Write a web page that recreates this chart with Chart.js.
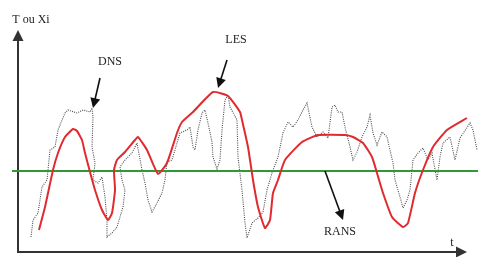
<!DOCTYPE html>
<html><head><meta charset="utf-8">
<script src="https://cdn.jsdelivr.net/npm/chart.js@4"></script>
<style>html,body{margin:0;padding:0;background:#fff;}#wrap{width:478px;height:257px;}</style>
</head><body><div id="wrap"><canvas id="c" width="478" height="257"></canvas></div>
<script>
// DNS signal (time, value)
const dnsT = [1.3,1.5,2.0,2.4,2.9,3.2,3.7,4.0,4.7,5.0,5.9,6.5,7.2,7.4,7.5,7.4,7.7,7.5,8.0,8.4,8.7,8.9,8.9,9.4,9.9,10.5,10.7,10.4,10.2,10.7,11.4,11.9,12.4,12.7,13.0,13.4,13.9,14.4,14.7,14.9,15.4,15.9,16.2,16.9,17.2,17.5,17.7,18.0,18.4,18.7,19.0,19.4,19.5,19.9,20.2,20.4,20.7,21.0,21.2,21.9,22.0,22.4,22.7,22.9,23.4,24.0,24.5,24.9,25.4,26.0,26.5,27.0,27.5,28.0,28.5,28.9,29.4,29.9,30.5,31.0,31.4,31.7,32.0,32.4,32.7,33.2,33.5,33.9,34.4,34.9,35.2,35.5,35.9,36.4,36.9,37.2,37.5,37.7,38.2,38.5,38.9,39.2,39.5,40.0,40.5,41.0,41.4,41.9,42.2,42.5,43.2,43.7,44.2,45.2,45.5,45.9];
const dnsV = [-6.6,-4.9,-4.2,-1.6,-0.9,2.1,2.4,4.1,5.8,6.1,5.8,6.1,5.9,6.3,5.4,2.4,0.8,-0.9,-1.2,-0.6,-2.6,-4.9,-6.6,-6.2,-5.6,-3.6,-1.9,-0.9,0.4,1.1,1.8,2.8,0.1,-1.2,-2.9,-4.1,-3.2,-2.2,-0.9,0.9,1.1,2.8,3.8,4.1,4.4,2.4,2.1,4.1,5.8,6.1,4.8,2.9,1.4,0.2,1.1,4.1,7.1,7.6,6.4,5.1,1.4,-1.9,-5.2,-6.7,-5.2,-4.7,-4.1,-1.9,-0.2,1.4,3.8,4.9,4.4,5.1,6.1,6.8,4.4,3.4,3.9,3.3,6.4,6.6,5.9,5.9,4.4,2.4,1.1,1.9,3.4,4.4,5.6,3.8,2.6,3.9,3.4,2.1,0.8,-0.9,-2.6,-3.7,-2.9,-1.9,1.1,1.8,2.3,1.1,1.8,-0.9,1.4,2.8,3.4,1.1,3.3,4.8,4.1,2.1];
// LES signal
const lesT = [2.1,2.7,3.5,4.0,4.7,5.5,5.9,6.4,6.7,7.2,7.7,8.4,9.0,9.4,9.7,9.6,9.9,10.7,11.7,12.0,12.9,14.0,14.9,15.9,16.4,17.5,19.5,21.0,22.2,22.4,23.0,23.5,24.0,24.7,25.2,25.5,26.0,26.7,28.4,30.0,32.7,33.5,34.5,35.4,35.9,36.5,37.4,38.5,39.0,39.7,40.5,41.5,42.9,44.9];
const lesV = [-5.9,-3.6,0.1,1.8,3.4,4.2,4.0,3.1,1.8,-0.1,-1.9,-3.9,-4.9,-4.2,-1.9,0.1,1.1,1.9,3.1,3.4,2.1,-0.3,0.8,3.8,4.9,5.9,7.9,7.5,5.9,5.1,2.4,-0.9,-3.6,-5.7,-4.9,-2.2,-0.9,1.1,2.9,3.6,3.6,3.4,2.8,1.4,-0.2,-2.2,-4.6,-5.6,-5.2,-2.2,0.1,2.4,4.1,5.3];
// RANS (mean) signal
const ransT = [-0.6, 46.0];
const ransV = [0, 0];
const seriesNames = ["DNS", "LES", "RANS"];
const axisTitleY = "T ou Xi";
const axisTitleX = "t";

const pts = (xs, ys) => xs.map((x, i) => ({x: x, y: ys[i]}));

const axisCfg = {t0: 0, tEnd: 44.9, vBottom: -8.1, vTop: 14.1};
const notes = [
  {text: seriesNames[0], at: [9.2, 10.9], from: [8.2, 9.3], to: [7.5, 6.3]},
  {text: seriesNames[1], at: [21.8, 13.1], from: [20.9, 11.1], to: [20.0, 8.3]},
  {text: seriesNames[2], at: [32.2, -6.1], from: [30.7, 0.0], to: [32.5, -4.9]}
];

function arrow(ctx, x1, y1, x2, y2, head, w, color) {
  const a = Math.atan2(y2 - y1, x2 - x1);
  ctx.save();
  ctx.strokeStyle = color; ctx.fillStyle = color; ctx.lineWidth = w;
  ctx.beginPath(); ctx.moveTo(x1, y1);
  ctx.lineTo(x2 - Math.cos(a) * head * 0.8, y2 - Math.sin(a) * head * 0.8); ctx.stroke();
  ctx.beginPath(); ctx.moveTo(x2, y2);
  ctx.lineTo(x2 - head * Math.cos(a) + head * 0.5 * Math.sin(a), y2 - head * Math.sin(a) - head * 0.5 * Math.cos(a));
  ctx.lineTo(x2 - head * Math.cos(a) - head * 0.5 * Math.sin(a), y2 - head * Math.sin(a) + head * 0.5 * Math.cos(a));
  ctx.closePath(); ctx.fill();
  ctx.restore();
}

const decor = {
  id: 'decor',
  beforeDatasetsDraw(chart) {
    const ctx = chart.ctx, xs = chart.scales.x, ys = chart.scales.y;
    const x0 = xs.getPixelForValue(axisCfg.t0), xe = xs.getPixelForValue(axisCfg.tEnd);
    const yb = ys.getPixelForValue(axisCfg.vBottom), yt = ys.getPixelForValue(axisCfg.vTop);
    arrow(ctx, x0, yb + 1, x0, yt, 11, 2, '#333');
    arrow(ctx, x0 - 1, yb, xe, yb, 11, 2, '#333');
    ctx.save();
    ctx.fillStyle = '#222';
    ctx.font = '12px "Liberation Serif", serif';
    ctx.textAlign = 'center'; ctx.textBaseline = 'middle';
    ctx.fillText(axisTitleY, xs.getPixelForValue(1.3), ys.getPixelForValue(15.1));
    ctx.fillText(axisTitleX, xs.getPixelForValue(43.4), ys.getPixelForValue(-7.2));
    ctx.restore();
  },
  afterDatasetsDraw(chart) {
    const ctx = chart.ctx, xs = chart.scales.x, ys = chart.scales.y;
    ctx.save();
    ctx.fillStyle = '#222';
    ctx.font = '12px "Liberation Serif", serif';
    ctx.textAlign = 'center'; ctx.textBaseline = 'middle';
    notes.forEach(n => {
      ctx.fillText(n.text, xs.getPixelForValue(n.at[0]), ys.getPixelForValue(n.at[1]));
      arrow(ctx, xs.getPixelForValue(n.from[0]), ys.getPixelForValue(n.from[1]),
            xs.getPixelForValue(n.to[0]), ys.getPixelForValue(n.to[1]), 10, 1.6, '#111');
    });
    ctx.restore();
  }
};

new Chart(document.getElementById('c'), {
  type: 'line',
  data: {
    datasets: [
      {label: seriesNames[0], data: pts(dnsT, dnsV), borderColor: '#4a4a4a', borderWidth: 1.1,
       borderDash: [1, 1.2], pointRadius: 0, tension: 0, clip: false, order: 3},
      {label: seriesNames[2], data: pts(ransT, ransV), borderColor: '#2f9a35', borderWidth: 2,
       pointRadius: 0, tension: 0, clip: false, order: 2},
      {label: seriesNames[1], data: pts(lesT, lesV), borderColor: '#e02b2e', borderWidth: 2,
       pointRadius: 0, tension: 0.15, clip: false, order: 1}
    ]
  },
  options: {
    responsive: false, animation: false, devicePixelRatio: 1,
    layout: {padding: 0},
    plugins: {legend: {display: false}, tooltip: {enabled: false}, title: {display: false}},
    scales: {
      x: {type: 'linear', min: -1.8, max: 46.0, display: false},
      y: {type: 'linear', min: -8.6, max: 17.1, display: false}
    }
  },
  plugins: [decor]
});
</script>
</body></html>
